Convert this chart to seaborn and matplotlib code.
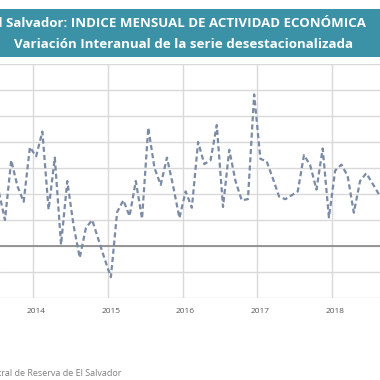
import matplotlib
matplotlib.use("Agg")
import numpy as np
import pandas as pd
import seaborn as sns
from matplotlib import pyplot as plt

# meses de la serie (jul-2013 a ago-2018)
meses = pd.period_range("2013-07", "2018-08", freq="M")
# variación interanual (%)
variacion = [
    2.1, 1.0, 3.3, 2.3, 1.7, 3.8,            # 2013 jul-dic
    3.45, 4.4, 1.4, 3.4, 0.05, 2.5, 0.8, -0.45, 0.7, 1.0, 0.25, -0.5,   # 2014
    -1.2, 1.3, 1.76, 1.15, 2.5, 1.05, 4.55, 3.0, 2.35, 3.4, 2.3, 1.08,  # 2015
    2.1, 1.47, 4.0, 3.15, 3.3, 4.65, 1.5, 3.7, 2.5, 1.76, 1.8, 5.83,    # 2016
    3.35, 3.26, 2.6, 1.9, 1.8, 1.95, 2.1, 3.5, 3.1, 2.17, 3.75, 1.1,    # 2017
    2.9, 3.13, 2.7, 1.28, 2.5, 2.8, 2.4, 2.0,                           # 2018 ene-ago
]
anios = [2014, 2015, 2016, 2017, 2018]

base = pd.Period("2014-01", freq="M")
df = pd.DataFrame({
    "mes": [(m - base).n for m in meses],
    "variacion": variacion,
})

sns.set_style("white")
plt.rcParams["font.family"] = ["Open Sans", "DejaVu Sans"]

fig = plt.figure(figsize=(3.8, 3.8), dpi=100)
ax = fig.add_axes([0.0, 1 - 298 / 380, 1.0, (298 - 64) / 380])

sns.lineplot(data=df, x="mes", y="variacion", ax=ax, color="#7b8ba5",
             lw=1.6, linestyle=(0, (2.3, 1.4)))

# rejilla estilo Excel
grid_c = "#d9d9d9"
for v in range(-2, 8):
    ax.axhline(v, color=grid_c, lw=1, zorder=0)
ax.axhline(0, color="#858585", lw=1.2, zorder=1)
for i, a in enumerate(anios):
    ax.axvline(12 * i - 0.5, color=grid_c, lw=1, zorder=0)

ax.set_xlim(-5.8, 55.2)
ax.set_ylim(-2, 7)
ax.set_xticks([12 * i for i in range(len(anios))])
ax.set_xticklabels([str(a) for a in anios], fontsize=6, color="#595959")
ax.set_yticks([])
ax.tick_params(axis="x", length=0, pad=7)
ax.set_xlabel("")
ax.set_ylabel("")
for s in ax.spines.values():
    s.set_visible(False)

# banda del título
banda = fig.add_axes([0.0, 1 - 57 / 380, 1.0, 48 / 380])
banda.set_facecolor("#3b92a6")
banda.set_xticks([])
banda.set_yticks([])
for s in banda.spines.values():
    s.set_visible(False)
banda.text(366 / 380, 0.70, "El Salvador: INDICE MENSUAL DE ACTIVIDAD ECONÓMICA",
           ha="right", va="center", color="white", fontsize=9.5,
           fontweight="bold", transform=banda.transAxes)
banda.text(183 / 380, 0.25, "Variación Interanual de la serie desestacionalizada",
           ha="center", va="center", color="white", fontsize=9.6,
           fontweight="bold", transform=banda.transAxes)

# la fuente aparece recortada en el borde izquierdo, como en el original
fig.text(121 / 380, 1 - 373 / 380, "Fuente: Banco Central de Reserva de El Salvador",
         ha="right", va="center", color="#7f7f7f", fontsize=6.5)

fig.savefig("out.png", dpi=100)
